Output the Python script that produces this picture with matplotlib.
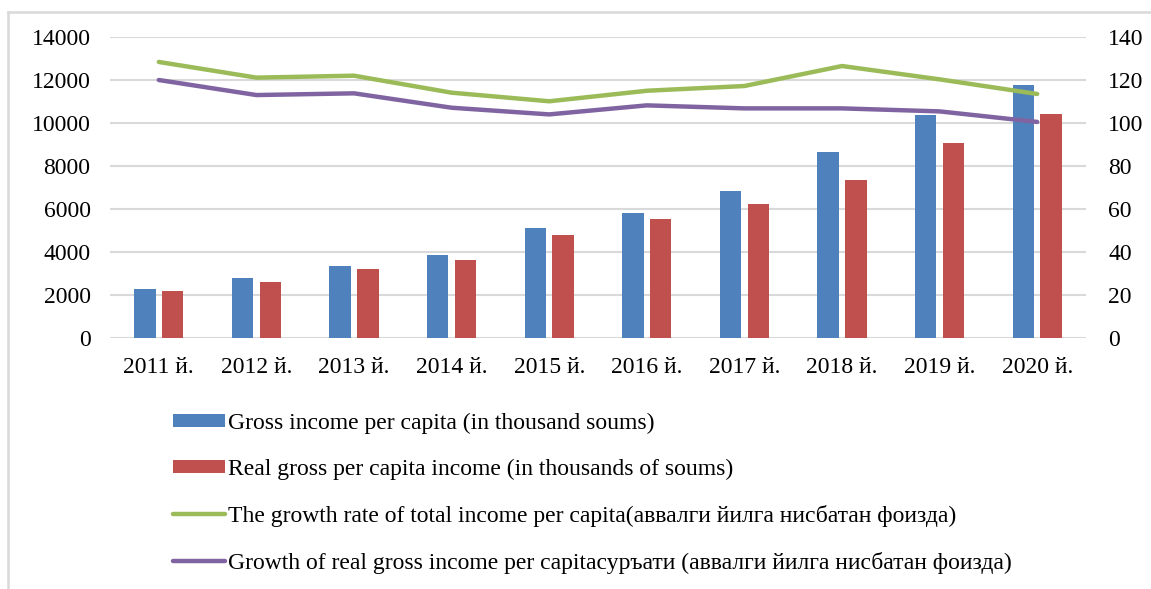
import numpy as np
import matplotlib.pyplot as plt
from matplotlib.lines import Line2D

plt.rcParams['font.family'] = ['Liberation Serif', 'DejaVu Serif']

years = ['2011 й.', '2012 й.', '2013 й.', '2014 й.', '2015 й.',
         '2016 й.', '2017 й.', '2018 й.', '2019 й.', '2020 й.']
gross_income = [2300, 2780, 3370, 3840, 5100, 5830, 6840, 8630, 10360, 11750]
real_income = [2180, 2600, 3200, 3620, 4800, 5540, 6250, 7330, 9050, 10420]
growth_total = [128.4, 121.1, 122.0, 114.1, 110.1, 115.0, 117.2, 126.5, 120.3, 113.5]
growth_real = [120.0, 113.0, 113.8, 107.1, 104.0, 108.2, 106.8, 106.8, 105.4, 100.5]

labels = ['Gross income per capita (in thousand soums)',
          'Real gross per capita income (in thousands of soums)',
          'The growth rate of total income per capita(аввалги йилга нисбатан фоизда)',
          'Growth of real gross income per capitaсуръати (аввалги йилга нисбатан фоизда)']

blue = '#4f81bd'
red = '#c0504d'
green = '#9bbb59'
purple = '#8064a2'
grid = '#d9d9d9'

W, H = 1151, 589
fig = plt.figure(figsize=(W / 100, H / 100), dpi=100)

# outer chart frame (only left and top edges are visible in the crop)
fig.add_artist(Line2D([8 / W, 8 / W], [0, 1 - 11.5 / H], color=grid, lw=1.8,
                      transform=fig.transFigure))
fig.add_artist(Line2D([8 / W, 1], [1 - 11.5 / H, 1 - 11.5 / H], color=grid, lw=1.8,
                      transform=fig.transFigure))

ax = fig.add_axes([110 / W, 1 - 338 / H, 976 / W, 301 / H])
x = np.arange(len(years))
w = 0.22
b1 = ax.bar(x - 0.143, gross_income, w, color=blue, label=labels[0], zorder=2)
b2 = ax.bar(x + 0.143, real_income, w, color=red, label=labels[1], zorder=2)

ax.set_ylim(0, 14000)
ax.set_yticks(range(0, 14001, 2000))
ax.set_xlim(-0.5, len(years) - 0.5)
ax.set_xticks(x)
ax.set_xticklabels(years)
ax.yaxis.grid(True, color=grid, linewidth=1.5, zorder=0)
ax.set_axisbelow(True)
for s in ax.spines.values():
    s.set_visible(False)
ax.tick_params(length=0, labelsize=17, pad=14)
ax.tick_params(axis='x', pad=14)

ax2 = ax.twinx()
l1, = ax2.plot(x, growth_total, color=green, linewidth=3.2, label=labels[2],
               solid_capstyle='round')
l2, = ax2.plot(x, growth_real, color=purple, linewidth=3.2, label=labels[3],
               solid_capstyle='round')
ax2.set_ylim(0, 140)
ax2.set_yticks(range(0, 141, 20))
for s in ax2.spines.values():
    s.set_visible(False)
ax2.tick_params(length=0, labelsize=17, pad=16)

fig.legend(handles=[b1, b2, l1, l2], labels=labels, loc='upper left',
           bbox_to_anchor=(161 / W, 1 - 401 / H), frameon=False, borderpad=0,
           fontsize=17, handlelength=2.2, handleheight=0.5, handletextpad=0.15,
           labelspacing=1.05)

fig.savefig('out.png', dpi=100)
